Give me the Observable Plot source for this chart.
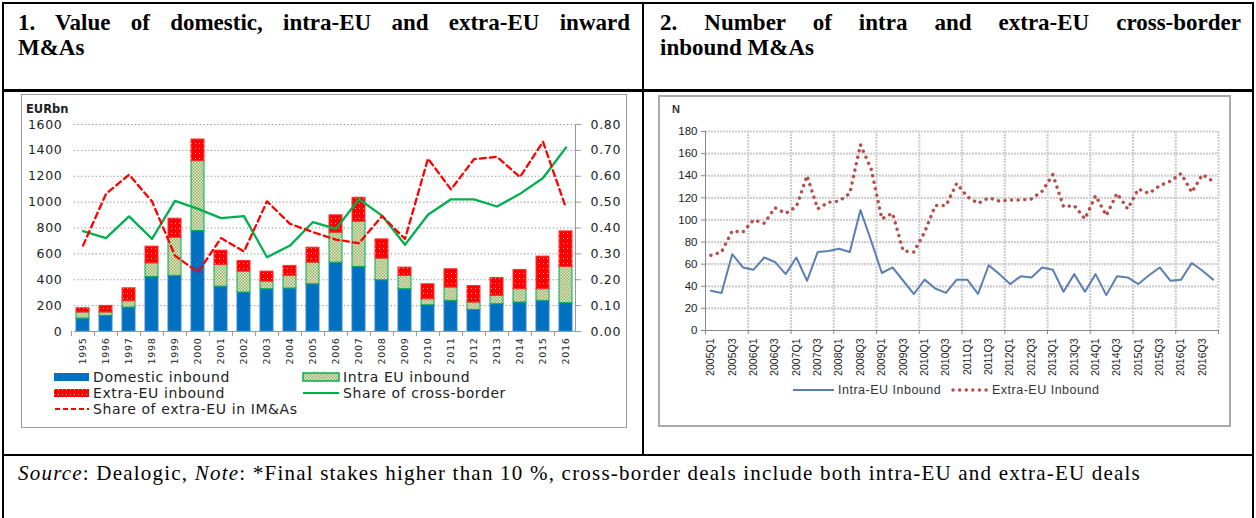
<!DOCTYPE html>
<html><head><meta charset="utf-8">
<script src="https://cdn.jsdelivr.net/npm/d3@7"></script>
<script src="https://cdn.jsdelivr.net/npm/@observablehq/plot@0.6"></script>
<style>
html,body{margin:0;padding:0;background:#fff}
body{width:1256px;height:518px;position:relative;overflow:hidden;font-family:"Liberation Serif",serif}
.ln{position:absolute;background:#000}
.title{position:absolute;font-family:"Liberation Serif",serif;font-weight:bold;font-size:23px;line-height:25px;color:#000}
.title .l1{text-align:justify;text-align-last:justify;white-space:normal}
.box{position:absolute;box-sizing:border-box}
.leg{position:absolute;font-family:"DejaVu Sans",sans-serif;font-size:14px;letter-spacing:0.6px;color:#222;white-space:nowrap;line-height:16px}
.leg2{position:absolute;font-family:"Liberation Sans",sans-serif;font-size:12.5px;letter-spacing:0.5px;color:#333;white-space:nowrap;line-height:14px}
.sw{position:absolute}
</style></head><body>
<div class="ln" style="left:2px;top:2px;width:1252px;height:2px"></div>
<div class="ln" style="left:2px;top:2px;width:2px;height:516px"></div>
<div class="ln" style="left:1252px;top:2px;width:2px;height:516px"></div>
<div class="ln" style="left:642px;top:2px;width:2px;height:454px"></div>
<div class="ln" style="left:2px;top:89px;width:1252px;height:3px"></div>
<div class="ln" style="left:2px;top:454px;width:1252px;height:2px"></div>

<div class="title" style="left:18px;top:10px;width:612px"><div class="l1">1. Value of domestic, intra-EU and extra-EU inward</div><div>M&amp;As</div></div>
<div class="title" style="left:660px;top:10px;width:581px"><div class="l1">2. Number of intra and extra-EU cross-border</div><div>inbound M&amp;As</div></div>

<div class="box" style="left:21px;top:94px;width:606px;height:334px;border:1px solid #999"></div>
<div class="box" style="left:658px;top:95px;width:573px;height:332px;border:2px solid #aaa"></div>

<div id="left" style="position:absolute;left:22px;top:96px"></div>
<div id="right" style="position:absolute;left:660px;top:97px"></div>

<div style="position:absolute;left:26px;top:102px;font-family:'DejaVu Sans',sans-serif;font-weight:bold;font-size:11.5px;color:#222">EURbn</div>
<div style="position:absolute;left:672px;top:103px;font-family:'Liberation Sans',sans-serif;font-weight:bold;font-size:11px;color:#333">N</div>

<div id="legL"></div>
<div id="legR"></div>

<div id="src" style="position:absolute;left:18px;top:461px;font-family:'Liberation Serif',serif;font-size:21px;color:#000;white-space:nowrap"><i>Source</i>: Dealogic, <i>Note</i>: *Final stakes higher than 10 %, cross-border deals include both intra-EU and extra-EU deals</div>

<script>
// ---------- Chart 1 data ----------
const years = ["1995","1996","1997","1998","1999","2000","2001","2002","2003","2004","2005","2006","2007","2008","2009","2010","2011","2012","2013","2014","2015","2016"];
const domestic = [100,121,185,422,430,777,347,301,327,332,365,532,499,396,327,203,237,167,211,224,237,219];
const intraEU  = [47,26,49,105,295,540,167,162,59,98,167,232,350,167,103,46,103,57,64,103,90,280];
const extraEU  = [33,51,100,129,147,167,111,82,77,77,116,134,185,149,64,116,141,128,139,149,252,275];
const shareExtra = [0.332,0.532,0.606,0.503,0.293,0.229,0.361,0.309,0.503,0.416,0.384,0.355,0.341,0.446,0.358,0.668,0.549,0.666,0.675,0.597,0.733,0.477];
const shareCross = [0.388,0.361,0.445,0.358,0.505,0.474,0.438,0.446,0.287,0.332,0.423,0.397,0.511,0.448,0.335,0.451,0.511,0.511,0.483,0.532,0.593,0.711];
const valueTicks = [0,200,400,600,800,1000,1200,1400,1600];
const shareTicks = [0,0.1,0.2,0.3,0.4,0.5,0.6,0.7,0.8];
const seriesNames = ["Domestic inbound","Intra EU inbound","Extra-EU inbound","Share of cross-border","Share of extra-EU in IM&As"];

// ---------- Chart 2 data ----------
const quarters = ["2005Q1","2005Q2","2005Q3","2005Q4","2006Q1","2006Q2","2006Q3","2006Q4","2007Q1","2007Q2","2007Q3","2007Q4","2008Q1","2008Q2","2008Q3","2008Q4","2009Q1","2009Q2","2009Q3","2009Q4","2010Q1","2010Q2","2010Q3","2010Q4","2011Q1","2011Q2","2011Q3","2011Q4","2012Q1","2012Q2","2012Q3","2012Q4","2013Q1","2013Q2","2013Q3","2013Q4","2014Q1","2014Q2","2014Q3","2014Q4","2015Q1","2015Q2","2015Q3","2015Q4","2016Q1","2016Q2","2016Q3","2016Q4"];
const intraN = [36,34,69,57,55,66,62,51,66,45,71,72,74,71,109,81,52,57,45,33,46,38,34,46,46,33,59,51,42,49,48,57,55,35,51,35,51,32,49,48,42,50,57,45,46,61,54,46];
const extraN = [68,71,90,89,100,97,111,106,112,140,110,116,117,124,168,146,101,106,72,71,89,113,113,133,121,115,120,117,118,118,119,126,141,112,113,101,122,104,124,110,128,124,131,135,142,125,141,135];
const countTicks = [0,20,40,60,80,100,120,140,160,180];
const series2 = ["Intra-EU Inbound","Extra-EU Inbound"];

// ---------- Chart 1 ----------
const SCALE = 1600 / 0.8; // right axis mapping
const rows = [];
years.forEach((y,i)=>{
  rows.push({year:y, type:seriesNames[0], v:domestic[i]});
  rows.push({year:y, type:seriesNames[1], v:intraEU[i]});
  rows.push({year:y, type:seriesNames[2], v:extraEU[i]});
});
const fillOf = {[seriesNames[0]]:"#0070C0",[seriesNames[1]]:"url(#pIntra)",[seriesNames[2]]:"url(#pExtra)"};
const strokeOf = {[seriesNames[0]]:"#2f86cc",[seriesNames[1]]:"#00B050",[seriesNames[2]]:"#ff3030"};
const lines = years.map((y,i)=>({year:y, cross:shareCross[i], extra:shareExtra[i]}));

const W1=604,H1=280,ML1=52,MR1=51;
const padIn=0.43,padOut=0.06;
const step1 = (W1-ML1-MR1)/(years.length - padIn + 2*padOut);

const left = Plot.plot({
  width:W1, height:H1, marginLeft:ML1, marginRight:MR1, marginTop:28, marginBottom:45,
  style:{fontFamily:"DejaVu Sans, sans-serif", fontSize:"12.5px", letterSpacing:"0.7px", color:"#222", background:"transparent", overflow:"visible"},
  x:{type:"band", domain:years, paddingInner:padIn, paddingOuter:padOut, label:null},
  y:{domain:[0,1600], label:null},
  color:{type:"identity"},
  marks:[
    Plot.gridY(valueTicks.filter(v=>v>0), {stroke:"#888", strokeOpacity:1, strokeDasharray:"1.2,2.4"}),
    Plot.barY(rows, {x:"year", y:"v", fill:d=>fillOf[d.type], stroke:d=>strokeOf[d.type], strokeWidth:1}),
    Plot.ruleY([0], {stroke:"#999"}),
    Plot.frame({anchor:"right", stroke:"#999"}),
    Plot.axisY({ticks:valueTicks, tickFormat:d3.format("d"), tickSize:0, tickPadding:12, label:null}),
    Plot.axisY({anchor:"right", ticks:shareTicks.map(s=>s*SCALE), tickFormat:d=>(d/SCALE).toFixed(2), tickSize:5, tickPadding:10, stroke:"#999", label:null}),
    Plot.axisX({tickSize:5, tickFormat:()=>"", dx:-step1/2, stroke:"#999", label:null}),
    Plot.axisX({tickSize:0, tickRotate:-90, tickPadding:6, fontSize:9.5, label:null}),
    Plot.lineY(lines, {x:"year", y:d=>d.cross*SCALE, stroke:"#00B050", strokeWidth:2.3}),
    Plot.lineY(lines, {x:"year", y:d=>d.extra*SCALE, stroke:"#FF0000", strokeWidth:2.3, strokeDasharray:"6,4"})
  ]
});
left.insertAdjacentHTML("afterbegin",
 `<defs>
  <pattern id="pIntra" width="3" height="3" patternUnits="userSpaceOnUse">
   <rect width="3" height="3" fill="#e6edd3"/>
   <rect width="1.5" height="1.5" fill="#94ad62"/><rect x="1.5" y="1.5" width="1.5" height="1.5" fill="#94ad62"/>
  </pattern>
  <pattern id="pExtra" width="4" height="5" patternUnits="userSpaceOnUse">
   <rect width="4" height="5" fill="#ff0000"/><rect x="1" y="2" width="1" height="1" fill="#ffb0b0"/>
  </pattern>
 </defs>`);
document.getElementById("left").appendChild(left);

// ---------- Chart 2 ----------
const qRows = quarters.map((q,i)=>({i, q, intra:intraN[i], extra:extraN[i]}));
const yearEdges = d3.range(0, quarters.length+1, 4);
const labelPos = d3.range(0, quarters.length, 2).map(i=>i+0.5);
const right = Plot.plot({
  width:572, height:285, marginLeft:45, marginRight:14, marginTop:34, marginBottom:52,
  style:{fontFamily:"Liberation Sans, sans-serif", fontSize:"11.5px", color:"#222", background:"transparent", overflow:"visible"},
  x:{domain:[0,quarters.length], label:null},
  y:{domain:[0,180], label:null},
  marks:[
    Plot.gridY(countTicks.filter(v=>v>0), {stroke:"#cfcfcf", strokeOpacity:1, strokeWidth:2.2, strokeDasharray:"2,1"}),
    Plot.gridX(yearEdges.filter(v=>v>0), {stroke:"#cfcfcf", strokeOpacity:1, strokeWidth:2.2, strokeDasharray:"2,1"}),
    Plot.ruleY([0], {stroke:"#888"}),
    Plot.ruleX([0], {stroke:"#888"}),
    Plot.axisY({ticks:countTicks, tickSize:4, tickPadding:4, stroke:"#888", label:null}),
    Plot.axisX({ticks:yearEdges, tickFormat:()=>"", tickSize:4, stroke:"#888", label:null}),
    Plot.axisX({ticks:labelPos, tickFormat:d=>quarters[d-0.5], tickRotate:-90, tickSize:0, tickPadding:8, fontSize:10.5, label:null}),
    Plot.lineY(qRows, {x:d=>d.i+0.5, y:"intra", stroke:"#5b7fb4", strokeWidth:2}),
    Plot.lineY(qRows, {x:d=>d.i+0.5, y:"extra", stroke:"#b54e4b", strokeWidth:3.4, strokeDasharray:"0.1,6.5", strokeLinecap:"round"})
  ]
});
document.getElementById("right").appendChild(right);

// ---------- Legends ----------
const legL = document.getElementById("legL");
const swatch = (x,y,inner)=>`<svg class="sw" style="left:${x}px;top:${y}px" width="38" height="12">${inner}</svg>`;
legL.innerHTML =
  swatch(53,371,`<rect x="1" y="2" width="35" height="8" fill="#0070C0"/>`) +
  `<div class="leg" style="left:93px;top:369px">${seriesNames[0]}</div>` +
  swatch(302,371,`<rect x="1" y="2" width="36" height="8" fill="url(#pIntra)" stroke="#00B050" stroke-width="1.5"/>`) +
  `<div class="leg" style="left:343px;top:369px">${seriesNames[1]}</div>` +
  swatch(53,387,`<rect x="1" y="2" width="35" height="8" fill="url(#pExtra)"/>`) +
  `<div class="leg" style="left:93px;top:385px">${seriesNames[2]}</div>` +
  swatch(302,387,`<line x1="1" x2="37" y1="6" y2="6" stroke="#00B050" stroke-width="2"/>`) +
  `<div class="leg" style="left:343px;top:385px">${seriesNames[3]}</div>` +
  swatch(53,403,`<line x1="2" x2="36" y1="6" y2="6" stroke="#FF0000" stroke-width="2" stroke-dasharray="5,3"/>`) +
  `<div class="leg" style="left:93px;top:401px">${seriesNames[4]}</div>`;

const legR = document.getElementById("legR");
legR.innerHTML =
  `<svg class="sw" style="left:792px;top:384px" width="44" height="12"><line x1="1" x2="42" y1="6" y2="6" stroke="#5b7fb4" stroke-width="2"/></svg>` +
  `<div class="leg2" style="left:838px;top:383px">${series2[0]}</div>` +
  `<svg class="sw" style="left:950px;top:384px" width="44" height="12"><line x1="3" x2="40" y1="6" y2="6" stroke="#b54e4b" stroke-width="3.4" stroke-dasharray="0.1,6.5" stroke-linecap="round"/></svg>` +
  `<div class="leg2" style="left:992px;top:383px">${series2[1]}</div>`;

// stretch the source line to the reference width
const src = document.getElementById("src");
const w = src.getBoundingClientRect().width;
const n = src.textContent.length;
src.style.letterSpacing = ((1123 - w) / n).toFixed(3) + "px";
</script>
</body></html>
